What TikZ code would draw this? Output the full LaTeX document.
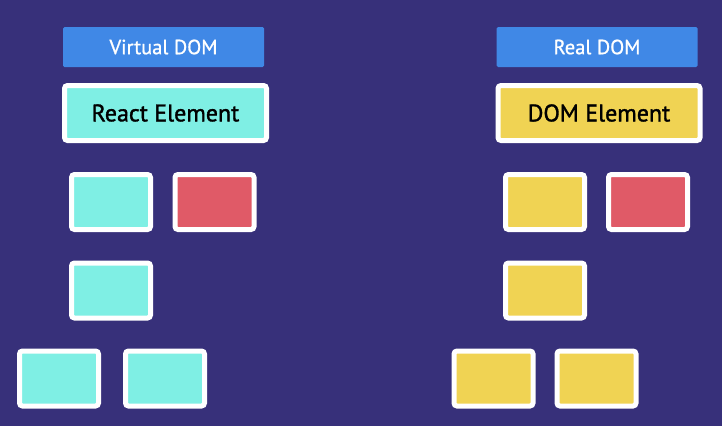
\documentclass[tikz,border=0pt]{standalone}
\usepackage{fontspec}
\setmainfont{PT Sans}[FakeBold=0.9]
\newfontfamily\boxfont{PT Sans}[FakeBold=1.4]
\definecolor{bgpurple}{HTML}{37307A}
\definecolor{headblue}{HTML}{4088E6}
\definecolor{vcyan}{HTML}{7FEFE4}
\definecolor{rred}{HTML}{E05A67}
\definecolor{ryellow}{HTML}{F0D353}
\tikzset{
  header/.style={fill=headblue, rounded corners=1.5pt, minimum width=201pt,
    minimum height=40pt, text=white, font=\fontsize{20.5}{24}\selectfont, inner sep=0pt},
  elem/.style={draw=white, line width=5pt, rounded corners=3pt, minimum width=202pt,
    minimum height=55pt, text=black, font=\boxfont\fontsize{24}{28}\selectfont, inner sep=0pt},
  leaf/.style={draw=white, line width=5pt, rounded corners=3pt, minimum width=79pt,
    minimum height=55pt, inner sep=0pt}
}
\begin{document}
\begin{tikzpicture}[x=1pt,y=-1pt]
  \fill[bgpurple] (0,0) rectangle (722,426);
  % virtual side
  \draw
    (163.5,47) node[header] (vhead){Virtual DOM}
    (165.5,113) node[elem, fill=vcyan] (velem){React Element}
    (111,202) node[leaf, fill=vcyan] (va){}
    (214.5,202) node[leaf, fill=rred] (vb){}
    (111,290.5) node[leaf, fill=vcyan] (vc){}
    (59,378.5) node[leaf, fill=vcyan] (vd){}
    (165,378.5) node[leaf, fill=vcyan] (ve){};
  % real side
  \draw
    (597,47) node[header] (rhead){Real DOM}
    (599,113) node[elem, fill=ryellow] (relem){DOM Element}
    (545,202) node[leaf, fill=ryellow] (ra){}
    (648,202) node[leaf, fill=rred] (rb){}
    (545,290.5) node[leaf, fill=ryellow] (rc){}
    (493.5,378.5) node[leaf, fill=ryellow] (rd){}
    (596.5,378.5) node[leaf, fill=ryellow] (re){};
\end{tikzpicture}
\end{document}
